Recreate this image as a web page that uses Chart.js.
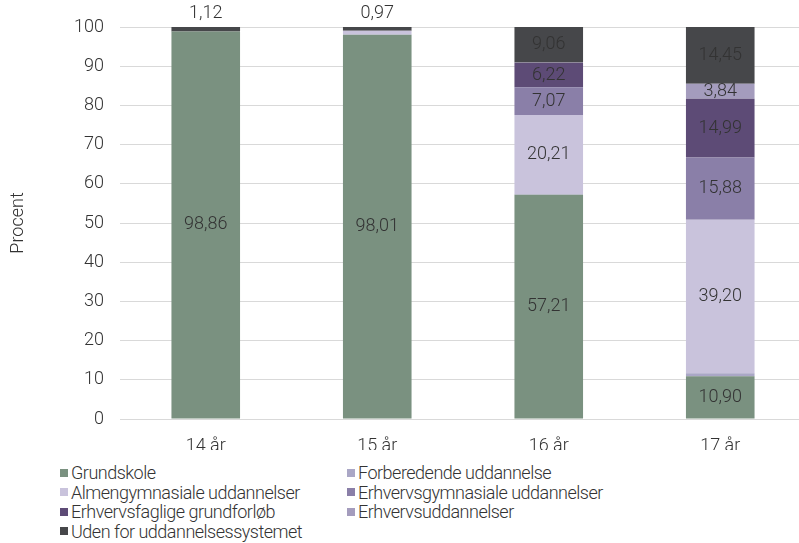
<!DOCTYPE html>
<html lang="da">
<head>
<meta charset="UTF-8" />
<title>Procent efter alder</title>
<script src="https://cdn.jsdelivr.net/npm/chart.js"></script>
<style>
  html, body { margin: 0; padding: 0; background: #fff; overflow: hidden; }
  body { width: 799px; height: 543px; position: relative; font-family: Roboto, sans-serif; font-weight: 300; color: #333; }
  #wrap { position: absolute; left: 0; top: 0; width: 806px; height: 450px; }
  #legend { position: absolute; left: 60px; top: 463px; display: grid; grid-template-columns: 287px 300px; font-size: 18px; letter-spacing: -0.5px; }
  #legend div { display: flex; align-items: center; height: 19.5px; white-space: nowrap; }
  #legend span { display: inline-block; width: 8px; height: 8px; margin-right: 3px; }
</style>
</head>
<body>
<div id="wrap"><canvas id="chart" width="806" height="450"></canvas></div>
<div id="legend"></div>

<script>
  const kategorier = ['14 år', '15 år', '16 år', '17 år'];

  const grundskole = [98.86, 98.01, 57.21, 10.90];
  const forberedende = [0.02, 0.07, 0.15, 0.74];
  const almengymnasiale = [0, 0.95, 20.21, 39.20];
  const erhvervsgymnasiale = [0, 0, 7.07, 15.88];
  const erhvervsfaglige = [0, 0, 6.22, 14.99];
  const erhvervsuddannelser = [0, 0, 0.08, 3.84];
  const udenFor = [1.12, 0.97, 9.06, 14.45];

  const serier = [
    { label: 'Grundskole', data: grundskole, color: '#7a9180' },
    { label: 'Forberedende uddannelse', data: forberedende, color: '#aaa7c6' },
    { label: 'Almengymnasiale uddannelser', data: almengymnasiale, color: '#c9c3dc' },
    { label: 'Erhvervsgymnasiale uddannelser', data: erhvervsgymnasiale, color: '#8a7fa8' },
    { label: 'Erhvervsfaglige grundforløb', data: erhvervsfaglige, color: '#5d4b76' },
    { label: 'Erhvervsuddannelser', data: erhvervsuddannelser, color: '#a49cbd' },
    { label: 'Uden for uddannelsessystemet', data: udenFor, color: '#46474a' }
  ];

  const fontFam = 'Roboto, sans-serif';
  const tekstFont = { family: fontFam, size: 18, weight: 300 };

  // værdier skrives i segmenterne, små top-segmenter over søjlen
  const vaerdiLabels = {
    id: 'vaerdiLabels',
    afterDatasetsDraw(chart) {
      const ctx = chart.ctx;
      ctx.save();
      ctx.font = '300 18px ' + fontFam;
      ctx.fillStyle = '#333';
      ctx.textAlign = 'center';
      ctx.textBaseline = 'middle';
      chart.data.datasets.forEach((ds, i) => {
        const meta = chart.getDatasetMeta(i);
        meta.data.forEach((bar, j) => {
          const v = ds.data[j];
          const txt = v.toFixed(2).replace('.', ',');
          if (v >= 3) {
            ctx.fillText(txt, bar.x, (bar.y + bar.base) / 2);
          } else if (i === chart.data.datasets.length - 1 && v > 0.5) {
            ctx.fillText(txt, bar.x, bar.y - 14);
          }
        });
      });
      ctx.restore();
    }
  };

  new Chart(document.getElementById('chart'), {
    type: 'bar',
    data: {
      labels: kategorier,
      datasets: serier.map(s => ({
        label: s.label,
        data: s.data,
        backgroundColor: s.color,
        borderWidth: 0,
        barPercentage: 0.4,
        categoryPercentage: 1
      }))
    },
    options: {
      responsive: false,
      animation: false,
      layout: { padding: { top: 27, right: 0, bottom: 0, left: 0 } },
      plugins: {
        legend: { display: false },
        tooltip: { enabled: false }
      },
      scales: {
        x: {
          stacked: true,
          grid: { display: false },
          border: { display: false },
          ticks: { color: '#333', font: tekstFont, padding: 9 },
          afterFit(scale) { scale.height = 31; }
        },
        y: {
          stacked: true,
          min: 0,
          max: 100,
          ticks: { stepSize: 10, color: '#333', font: tekstFont, padding: 16 },
          grid: { color: '#d9d9d9', drawTicks: false },
          border: { display: false },
          title: { display: true, text: 'Procent', color: '#333', font: tekstFont, padding: { top: 8, bottom: 0 } },
          afterFit(scale) { scale.width = 120; }
        }
      }
    },
    plugins: [vaerdiLabels]
  });

  const legend = document.getElementById('legend');
  serier.forEach(s => {
    const d = document.createElement('div');
    d.innerHTML = '<span style="background:' + s.color + '"></span>' + s.label;
    legend.appendChild(d);
  });
</script>
</body>
</html>
